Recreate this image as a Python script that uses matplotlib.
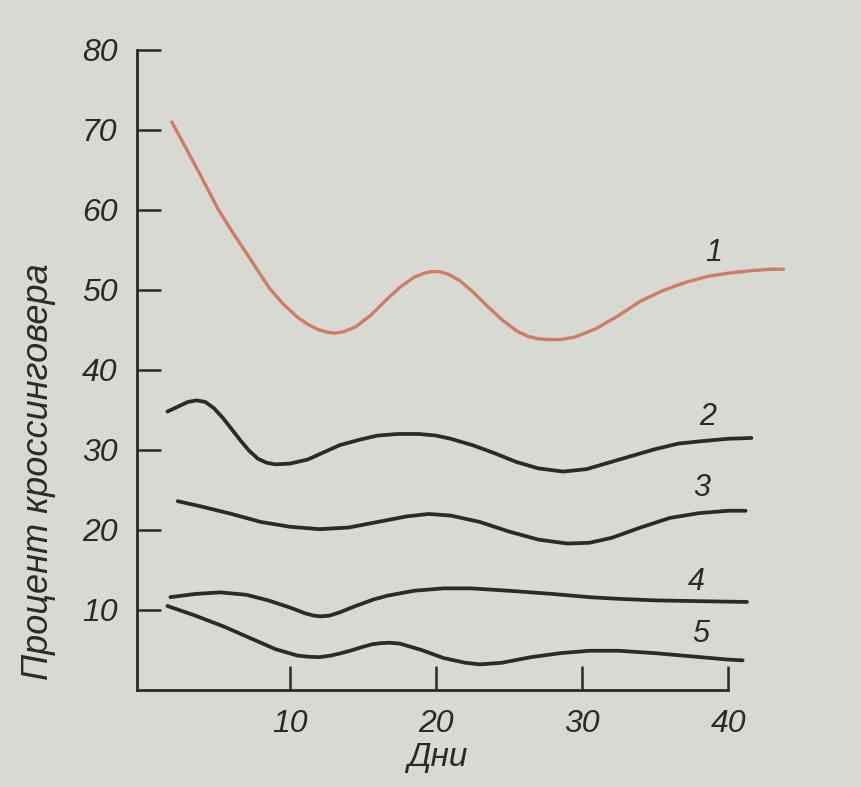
import matplotlib

matplotlib.use("Agg")

import matplotlib.pyplot as plt

# curve values (day, percent crossing-over)
days_1 = [1.9, 2.7, 3.5, 4.3, 5.1, 6.0, 6.9, 7.8, 8.6, 9.5, 10.5, 11.3, 12.0, 12.6, 13.1, 13.7,
          14.5, 15.5, 16.5, 17.5, 18.5, 19.2, 19.7, 20.2, 20.8, 21.6, 22.5, 23.5, 24.5, 25.5,
          26.3, 27.0, 27.7, 28.5, 29.5, 31.0, 32.5, 34.0, 35.5, 37.0, 38.6, 40.0, 41.5, 43.0,
          43.8]
pct_1 = [71.0, 68.3, 65.6, 62.8, 60.0, 57.4, 54.9, 52.4, 50.2, 48.3, 46.6, 45.6, 45.0, 44.7,
         44.6, 44.8, 45.4, 46.8, 48.6, 50.3, 51.6, 52.1, 52.3, 52.3, 52.0, 51.2, 49.8, 48.0,
         46.3, 44.9, 44.2, 43.9, 43.8, 43.8, 44.1, 45.2, 46.8, 48.6, 49.9, 50.9, 51.7, 52.1,
         52.4, 52.6, 52.6]

days_2 = [1.6, 2.3, 3.0, 3.6, 4.2, 4.8, 5.4, 6.0, 6.6, 7.2, 7.8, 8.4, 9.0, 10.0, 11.2, 12.3,
          13.4, 14.8, 16.0, 17.4, 18.8, 20.0, 21.0, 22.5, 24.0, 25.5, 27.0, 28.7, 30.3, 31.8,
          33.3, 35.0, 36.6, 38.2, 40.0, 41.6]
pct_2 = [34.8, 35.4, 36.0, 36.2, 36.0, 35.2, 34.0, 32.6, 31.2, 29.9, 28.9, 28.4, 28.2, 28.3,
         28.8, 29.7, 30.6, 31.3, 31.8, 32.0, 32.0, 31.8, 31.4, 30.6, 29.6, 28.5, 27.7, 27.3,
         27.6, 28.4, 29.2, 30.1, 30.8, 31.1, 31.4, 31.5]

days_3 = [2.3, 4.0, 6.0, 8.0, 10.0, 12.0, 14.0, 16.0, 18.0, 19.5, 21.0, 23.0, 25.0, 27.0, 29.0,
          30.5, 32.0, 34.0, 36.0, 38.0, 40.0, 41.2]
pct_3 = [23.6, 22.9, 22.0, 21.0, 20.4, 20.1, 20.3, 21.0, 21.7, 22.0, 21.8, 21.0, 19.8, 18.8, 18.3,
         18.4, 19.0, 20.3, 21.5, 22.1, 22.4, 22.4]

days_4 = [1.8, 3.5, 5.2, 7.0, 8.5, 10.0, 11.0, 11.6, 12.1, 12.7, 13.4, 14.5, 15.7, 16.7, 18.5,
          20.5, 22.4, 25.0, 28.0, 30.5, 32.4, 35.0, 38.0, 41.3]
pct_4 = [11.6, 12.0, 12.2, 11.9, 11.2, 10.3, 9.6, 9.3, 9.2, 9.3, 9.7, 10.5, 11.3, 11.8, 12.4,
         12.7, 12.7, 12.4, 12.0, 11.6, 11.4, 11.2, 11.1, 11.0]

days_5 = [1.6, 3.5, 5.5, 7.5, 9.0, 10.5, 11.3, 12.0, 12.8, 13.5, 14.3, 15.0, 15.6, 16.2, 16.8,
          17.5, 19.0, 20.5, 22.0, 23.0, 24.5, 26.5, 28.5, 30.5, 32.5, 35.0, 37.5, 40.0, 41.0]
pct_5 = [10.5, 9.3, 7.9, 6.3, 5.1, 4.3, 4.15, 4.1, 4.3, 4.6, 5.0, 5.4, 5.7, 5.85, 5.9, 5.8,
         5.0, 4.0, 3.4, 3.2, 3.4, 4.1, 4.6, 4.9, 4.9, 4.6, 4.2, 3.8, 3.7]

curve_names = ["1", "2", "3", "4", "5"]
name_x = [39.0, 38.6, 38.2, 37.8, 38.1]
name_y = [54.6, 34.1, 25.3, 13.5, 7.0]

x_ticks = [10, 20, 30, 40]
y_ticks = [10, 20, 30, 40, 50, 60, 70, 80]

PAPER = "#d9d9d3"
INK = "#2a2a2a"
RED = "#cf7c66"
FONT = ["Liberation Sans", "DejaVu Sans"]

plt.rcParams["font.family"] = FONT

fig = plt.figure(figsize=(8.62, 7.87), dpi=100)
fig.patch.set_facecolor(PAPER)
ax = fig.add_axes([0.159, 0.1233, 0.7703, 0.8132])
ax.set_facecolor(PAPER)

ax.plot(days_1, pct_1, color=RED, lw=2.4, clip_on=False, solid_capstyle="round",
        solid_joinstyle="round")
for d, p in [(days_2, pct_2), (days_3, pct_3), (days_4, pct_4), (days_5, pct_5)]:
    ax.plot(d, p, color=INK, lw=2.7, clip_on=False, solid_capstyle="round",
            solid_joinstyle="round")

for name, tx, ty in zip(curve_names, name_x, name_y):
    ax.text(tx, ty, name, fontsize=22, style="italic", color=INK, ha="center", va="center")

ax.set_xlim(-0.48, 45)
ax.set_ylim(0, 80)
ax.spines["top"].set_visible(False)
ax.spines["right"].set_visible(False)
for side in ("left", "bottom"):
    ax.spines[side].set_color(INK)
    ax.spines[side].set_linewidth(2.0)
ax.spines["bottom"].set_bounds(-0.48, 40)
ax.spines["left"].set_bounds(0, 80)

ax.set_xticks(x_ticks)
ax.set_yticks(y_ticks)
ax.tick_params(direction="in", length=17, width=1.8, color=INK, labelcolor=INK,
               labelsize=23, pad=14)
for lab in ax.get_xticklabels() + ax.get_yticklabels():
    lab.set_style("italic")

fig.text(0.507, 0.037, "Дни", fontsize=24, style="italic", color=INK, ha="center", va="center")
fig.text(0.045, 0.401, "Процент кроссинговера", fontsize=26, style="italic", color=INK,
         rotation=90, ha="center", va="center")

fig.savefig("out.png", facecolor=PAPER)
